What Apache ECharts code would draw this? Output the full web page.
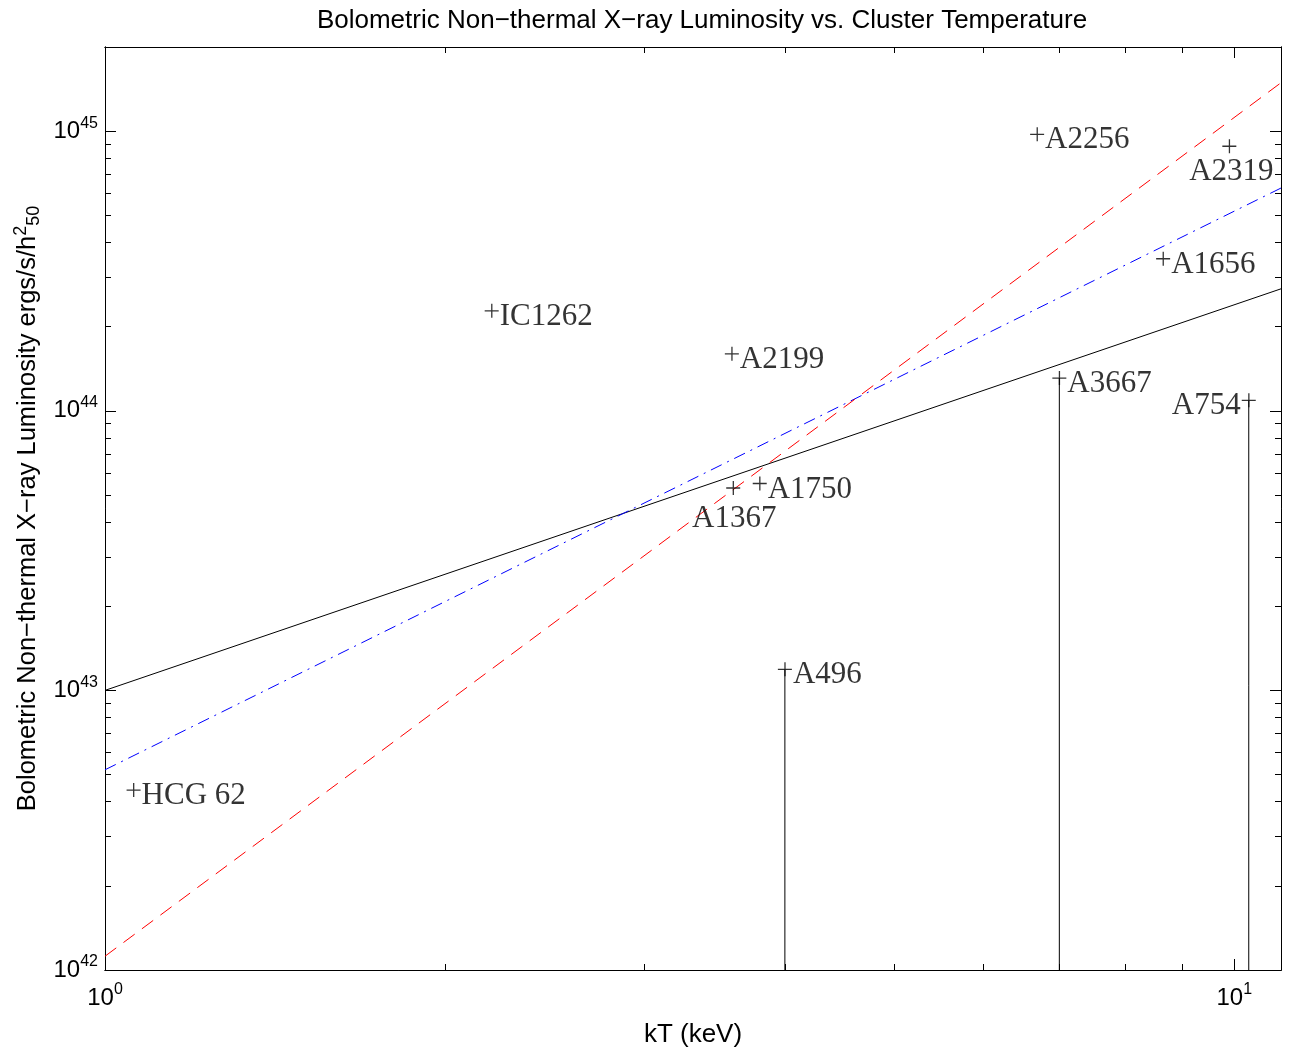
<!DOCTYPE html>
<html>
<head>
<meta charset="utf-8">
<script src="https://cdn.jsdelivr.net/npm/echarts@6/dist/echarts.min.js"></script>
<style>
  html, body { margin: 0; padding: 0; background: #fff; }
  #chartId { width: 1292px; height: 1053px; }
</style>
</head>
<body>
<div id="chartId"></div>
<script>
// cluster measurements (kT in keV, luminosity in ergs/s/h50^2)
const clusterNames = ["HCG 62", "IC1262", "A2199", "A1367", "A1750", "A496", "A3667", "A754", "A2256", "A2319", "A1656"];
const clusterKT = [1.06, 2.20, 3.59, 3.60, 3.80, 4.00, 7.00, 10.3, 6.69, 9.90, 8.65];
const clusterLx = [4.4e42, 2.28e44, 1.60e44, 5.3e43, 5.5e43, 1.19e43, 1.31e44, 1.09e44, 9.75e44, 8.84e44, 3.5e44];
// clusters drawn with a line down to the floor of the plot
const limitNames = ["A496", "A3667", "A754"];
const floorLx = 1e42;

// power-law fits, end points
const fitKT = [1, 11];
const fitSolid = [1.0e43, 2.73e44];
const fitDashDot = [5.2e42, 6.26e44];
const fitDashed = [1.12e42, 1.49e45];

// axis ticks
const xMajor = [1, 10];
const xMinor = [2, 3, 4, 5, 6, 7, 8, 9];
const yMajor = [1e42, 1e43, 1e44, 1e45];
const yMinor = [2e42, 3e42, 4e42, 5e42, 6e42, 7e42, 8e42, 9e42,
  2e43, 3e43, 4e43, 5e43, 6e43, 7e43, 8e43, 9e43,
  2e44, 3e44, 4e44, 5e44, 6e44, 7e44, 8e44, 9e44, 2e45];

const sans = "Liberation Sans";
const serif = "Liberation Serif";
const black = "#000";

const powLabel = (v) => "{b|10}{s|" + Math.round(Math.log10(v)) + "}";
const powRich = {
  b: { fontSize: 24, fontFamily: sans, color: black },
  s: { fontSize: 16, fontFamily: sans, color: black, padding: [0, 0, 16, 0] },
};

let makeAxis = (pos, ticks, len, extra) => {
  let a = {
    type: "log",
    logBase: 10,
    position: pos,
    axisLine: { show: true, onZero: false, lineStyle: { color: black, width: 1 } },
    axisTick: { show: true, inside: true, length: len, customValues: ticks, lineStyle: { color: black, width: 1 } },
    axisLabel: { show: false },
    splitLine: { show: false },
    minorTick: { show: false },
  };
  return Object.assign(a, extra);
};

let xRange = { min: 1, max: 11 };
let yRange = { min: 1e42, max: 2e45 };

let xAxes = [
  makeAxis("bottom", xMajor, 11, Object.assign({
    name: "kT (keV)",
    nameLocation: "middle",
    nameGap: 52,
    nameTextStyle: { fontFamily: sans, fontSize: 26, color: black },
    axisLabel: {
      show: true, customValues: xMajor, margin: 12,
      formatter: powLabel, rich: powRich,
    },
  }, xRange)),
  makeAxis("bottom", xMinor, 6, xRange),
  makeAxis("top", xMajor, 11, xRange),
  makeAxis("top", xMinor, 6, xRange),
];

let yAxes = [
  makeAxis("left", yMajor, 11, Object.assign({
    name: "Bolometric Non\u2212thermal X\u2212ray Luminosity ergs/s/h{sup|2}{sub|50}",
    nameLocation: "middle",
    nameGap: 58,
    nameTextStyle: {
      fontFamily: sans, fontSize: 25.5, color: black,
      rich: {
        sup: { fontFamily: sans, fontSize: 18, color: black, padding: [0, 0, 15, 0] },
        sub: { fontFamily: sans, fontSize: 18, color: black, padding: [11, 0, 0, 0] },
      },
    },
    axisLabel: {
      show: true, customValues: yMajor, margin: 7,
      formatter: powLabel, rich: powRich,
    },
  }, yRange)),
  makeAxis("left", yMinor, 6, yRange),
  makeAxis("right", yMajor, 11, yRange),
  makeAxis("right", yMinor, 6, yRange),
];

// label placement per cluster
let labelFor = (name) => {
  if (name === "A1367") return { position: "bottom", distance: 8, offset: [1, 0] };
  if (name === "A2319") return { position: "bottom", distance: 3, offset: [2, 0] };
  if (name === "A754") return { position: "left", distance: 1, offset: [0, 6] };
  return { position: "right", distance: 1, offset: [0, 6] };
};

let points = clusterNames.map((n, i) => ({
  value: [clusterKT[i], clusterLx[i]],
  name: n,
  label: labelFor(n),
}));

let limitSeries = limitNames.map((n) => {
  let i = clusterNames.indexOf(n);
  return {
    type: "line",
    data: [[clusterKT[i], clusterLx[i]], [clusterKT[i], floorLx]],
    symbol: "none",
    lineStyle: { color: black, width: 1 },
    silent: true,
    z: 2,
  };
});

let fitLine = (vals, color, type) => ({
  type: "line",
  data: fitKT.map((t, i) => [t, vals[i]]),
  symbol: "none",
  lineStyle: { color: color, width: 1, type: type },
  silent: true,
  z: 3,
});

let option = {
  animation: false,
  backgroundColor: "#fff",
  title: {
    text: "Bolometric Non\u2212thermal X\u2212ray Luminosity vs. Cluster Temperature",
    left: 697,
    textAlign: "center",
    top: 3,
    textStyle: { fontFamily: sans, fontSize: 26, fontWeight: "normal", color: black },
  },
  grid: { left: 105, right: 11, top: 47, bottom: 79, containLabel: false },
  xAxis: xAxes,
  yAxis: yAxes,
  series: [
    fitLine(fitSolid, black, "solid"),
    fitLine(fitDashDot, "#0000ff", [12, 6, 2, 6]),
    fitLine(fitDashed, "#ff0000", [14, 9]),
    ...limitSeries,
    {
      type: "scatter",
      data: points,
      symbol: "path://M0,6h13v1.2h-13z M6,0h1.2v13h-1.2z",
      symbolSize: 14,
      itemStyle: { color: black },
      label: {
        show: true,
        formatter: "{b}",
        fontFamily: serif,
        fontSize: 31,
        color: black,
      },
      z: 5,
    },
  ],
};

let chart = echarts.init(document.getElementById("chartId"));
chart.setOption(option);
</script>
</body>
</html>
